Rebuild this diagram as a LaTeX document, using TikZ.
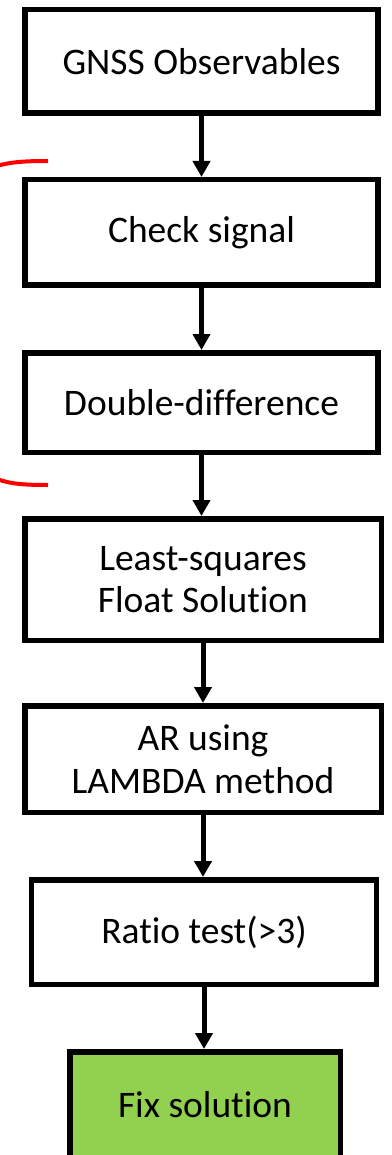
\documentclass[tikz,border=0pt]{standalone}
\usepackage{fontspec}
\setmainfont[Ligatures={NoCommon}]{Carlito}
\usetikzlibrary{arrows.meta}
\definecolor{fixgreen}{RGB}{146,208,80}
\definecolor{bracketred}{RGB}{255,0,0}
\tikzset{
  stepbox/.style={draw=black, line width=5.5pt, fill=white, rectangle, inner sep=0pt,
    align=center, font=\fontsize{37.5}{42.5}\selectfont},
  flowarrow/.style={draw=black, line width=5pt, -{Triangle[width=17pt,length=16pt]}},
  bracketline/.style={draw=bracketred, line width=4pt}
}
\begin{document}
\begin{tikzpicture}[x=1pt,y=1pt]
\useasboundingbox (0,0) rectangle (391,-1155);
% boxes
\node[stepbox, minimum width=353pt, minimum height=103.5pt] (b1) at (201.5,-61.5) {GNSS Observables};
\node[stepbox, minimum width=353pt, minimum height=105.5pt] (b2) at (201.5,-232.5) {Check signal};
\node[stepbox, minimum width=353pt, minimum height=99.5pt]  (b3) at (201.5,-402.5) {Double-difference};
\node[stepbox, minimum width=356.5pt, minimum height=121.5pt] (b4) at (203,-579.5) {Least-squares\\Float Solution};
\node[stepbox, minimum width=356.5pt, minimum height=106.5pt] (b5) at (203,-759) {AR using\\LAMBDA method};
\node[stepbox, minimum width=345pt, minimum height=104.5pt] (b6) at (204,-932) {Ratio test(>3)};
\node[stepbox, fill=fixgreen, minimum width=270.5pt, minimum height=106.5pt] (b7) at (205,-1105) {Fix solution};
% arrows
\draw[flowarrow] (b1.south) -- (b1.south |- b2.north);
\draw[flowarrow] (b2.south) -- (b2.south |- b3.north);
\draw[flowarrow] (b3.south) -- (b3.south |- b4.north);
\draw[flowarrow] (b4.south) -- (b4.south |- b5.north);
\draw[flowarrow] (b5.south) -- (b5.south |- b6.north);
\draw[flowarrow] (b6.south) -- (b6.south |- b7.north);
% red bracket arcs
\draw[bracketline] (48,-161) .. controls (25,-161) and (10,-162) .. (-3,-166);
\draw[bracketline] (48,-485) .. controls (25,-485) and (10,-484) .. (-3,-479);
\end{tikzpicture}
\end{document}
